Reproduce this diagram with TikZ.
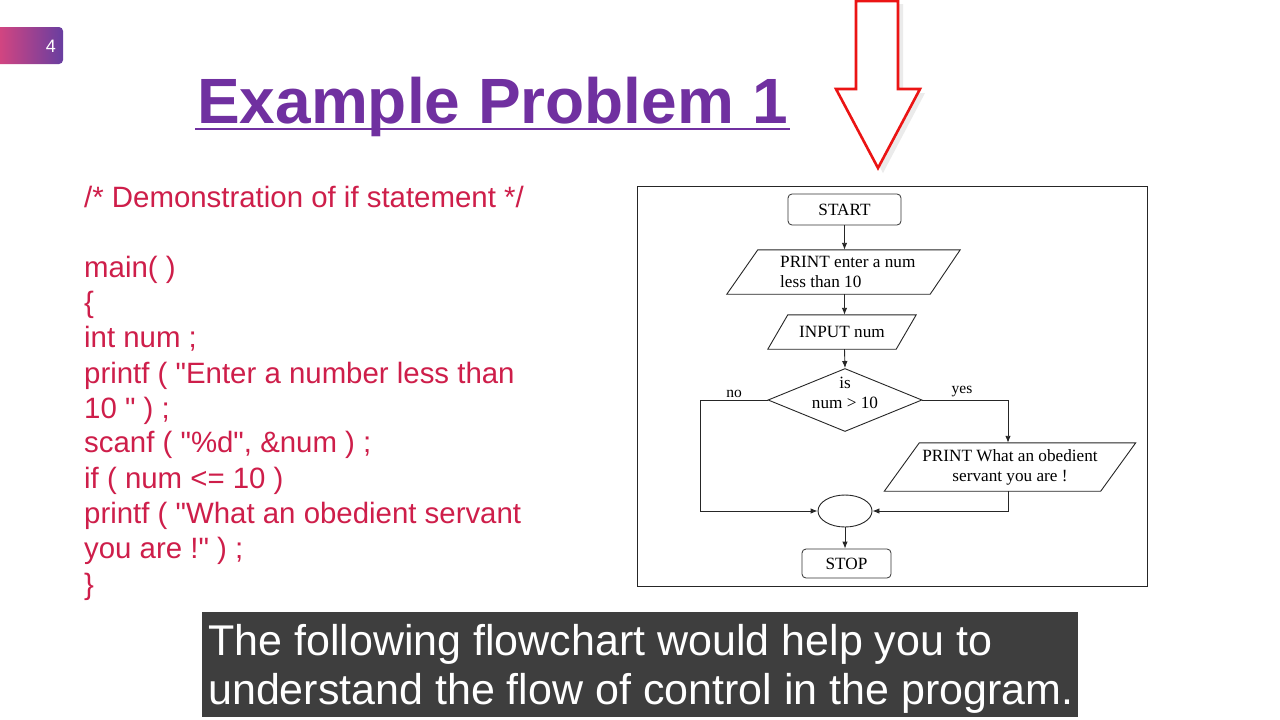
\documentclass[tikz,border=0pt]{standalone}
\usepackage{fontspec}
\setmainfont{Liberation Sans}
\newfontfamily\codefont{Liberation Sans}[Ligatures=TeXOff]
\newfontfamily\flowfont{Liberation Serif}
\usetikzlibrary{arrows.meta,shapes.geometric}
\definecolor{titlepurple}{RGB}{112,48,160}
\definecolor{codered}{RGB}{206,30,74}
\definecolor{badgeL}{RGB}{226,70,124}
\definecolor{badgeR}{RGB}{104,62,160}
\definecolor{capgray}{RGB}{52,52,52}
\definecolor{arrowred}{RGB}{235,20,20}
\tikzset{
  fbox/.style={draw=black!80, line width=0.8pt, rounded corners=4pt, font=\flowfont\fontsize{17.2}{19}\selectfont, inner sep=0pt},
  ftext/.style={font=\flowfont\fontsize{17.2}{20}\selectfont, inner sep=0pt, align=center},
  fline/.style={draw=black!85, line width=0.9pt},
  farrow/.style={fline, -{Latex[length=7pt,width=5.5pt]}},
  codeline/.style={anchor=base west, inner sep=0pt, text=codered, font=\codefont\fontsize{29.4}{34}\selectfont},
  lbl/.style={font=\flowfont\fontsize{15.5}{17}\selectfont, inner sep=0pt}
}
\begin{document}
\begin{tikzpicture}[x=1pt,y=-1pt]
\useasboundingbox (0,0) rectangle (1280,720);
\fill[white] (0,0) rectangle (1280,720);
% badge
\shade[left color=badgeL, right color=badgeR, rounded corners=4pt] (-10,27) rectangle (63,64);
\node[text=white, font=\fontsize{18}{18}\selectfont] (badge) at (51,46) {4};
% title
\node[anchor=base west, inner sep=0pt, text=titlepurple, font=\bfseries\fontsize{64}{70}\selectfont] (title) at (197,123) {Example Problem 1};
\draw[titlepurple, line width=2.5pt] (195,129) -- (790,129);
% red arrow
\fill[black!8] (861,4) -- (903,4) -- (903,93) -- (925,93) -- (883,173) -- (841,93) -- (861,93) -- cycle;
\draw[arrowred, line width=2.6pt, fill=white, line join=miter] (856,1) -- (898,1) -- (898,89) -- (920,89) -- (878,168) -- (836,89) -- (856,89) -- cycle;
% code
\node[codeline] (c1) at (84,207) {/* Demonstration of if statement */};
\node[codeline] (c2) at (84,277) {main( )};
\node[codeline] (c3) at (84,312) {\{};
\node[codeline] (c4) at (84,347) {int num ;};
\node[codeline] (c5) at (84,383) {printf ( "Enter a number less than};
\node[codeline] (c6) at (84,418) {10 " ) ;};
\node[codeline] (c7) at (84,452) {scanf ( "\%d", \&num ) ;};
\node[codeline] (c8) at (84,488) {if ( num <= 10 )};
\node[codeline] (c9) at (84,523) {printf ( "What an obedient servant};
\node[codeline] (c10) at (84,558) {you are !" ) ;};
\node[codeline] (c11) at (84,594) {\}};
% flowchart frame
\draw[black!85, line width=1pt] (637,186) rectangle (1147,586);
\node[fbox, minimum width=113pt, minimum height=31pt] (start) at (844.5,209.5) {START};
% parallelogram 1
\node[minimum width=233pt, minimum height=44pt, inner sep=0pt] (p1) at (843.5,272) {};
\draw[fline] ([xshift=31pt]p1.north west) -- (p1.north east) -- ([xshift=-30pt]p1.south east) -- (p1.south west) -- cycle;
\node[ftext, align=left, anchor=west] (p1text) at (780,272) {PRINT enter a num\\less than 10};
% input
\node[ftext, minimum width=148pt, minimum height=34pt] (inp) at (842,332) {INPUT num};
\draw[fline] ([xshift=20pt]inp.north west) -- (inp.north east) -- ([xshift=-20pt]inp.south east) -- (inp.south west) -- cycle;
% diamond
\node[draw=black!85, line width=0.9pt, diamond, aspect=2.45, minimum width=154pt, minimum height=63pt, inner sep=0pt] (dec) at (845,400) {};
\node[ftext] (dectext) at (845,393) {is\\num > 10};
% parallelogram 2
\node[ftext, minimum width=251pt, minimum height=48pt] (p2) at (1010,467) {PRINT What an obedient\\servant you are !};
\draw[fline] ([xshift=35pt]p2.north west) -- (p2.north east) -- ([xshift=-35pt]p2.south east) -- (p2.south west) -- cycle;
% connector
\node[draw=black!85, line width=0.9pt, ellipse, minimum width=54pt, minimum height=32pt, inner sep=0pt] (join) at (845,511) {};
\node[fbox, minimum width=89pt, minimum height=29pt] (stop) at (846.5,563.5) {STOP};
% connectors
\draw[farrow] (start.south) -- (start.south |- p1.north);
\draw[farrow] (p1.south -| start.south) -- (inp.north -| start.south);
\draw[farrow] (inp.south -| start.south) -- (dec.north);
\coordinate (nocorner) at (700,400);
\coordinate (nobottom) at (700,511);
\draw[farrow] (dec.west) -- (nocorner) -- (nobottom) -- (join.west);
\coordinate (yescorner) at (1008,400);
\draw[farrow] (dec.east) -- (yescorner) -- (yescorner |- p2.north);
\coordinate (p2out) at (1008,491);
\coordinate (p2corner) at (1008,511);
\draw[farrow] (p2out) -- (p2corner) -- (join.east);
\draw[farrow] (join.south) -- (stop.north -| join.south);
\node[lbl] (nolbl) at (734,394) {no};
\node[lbl] (yeslbl) at (962,392) {yes};
% caption
\fill[capgray, opacity=0.95] (202,612) rectangle (1078,717);
\node[anchor=base west, inner sep=0pt, text=white, font=\fontsize{43}{48}\selectfont] (cap1) at (208,655) {The following flowchart would help you to};
\node[anchor=base west, inner sep=0pt, text=white, font=\fontsize{43}{48}\selectfont] (cap2) at (208,704) {understand the flow of control in the program.};
\end{tikzpicture}
\end{document}
